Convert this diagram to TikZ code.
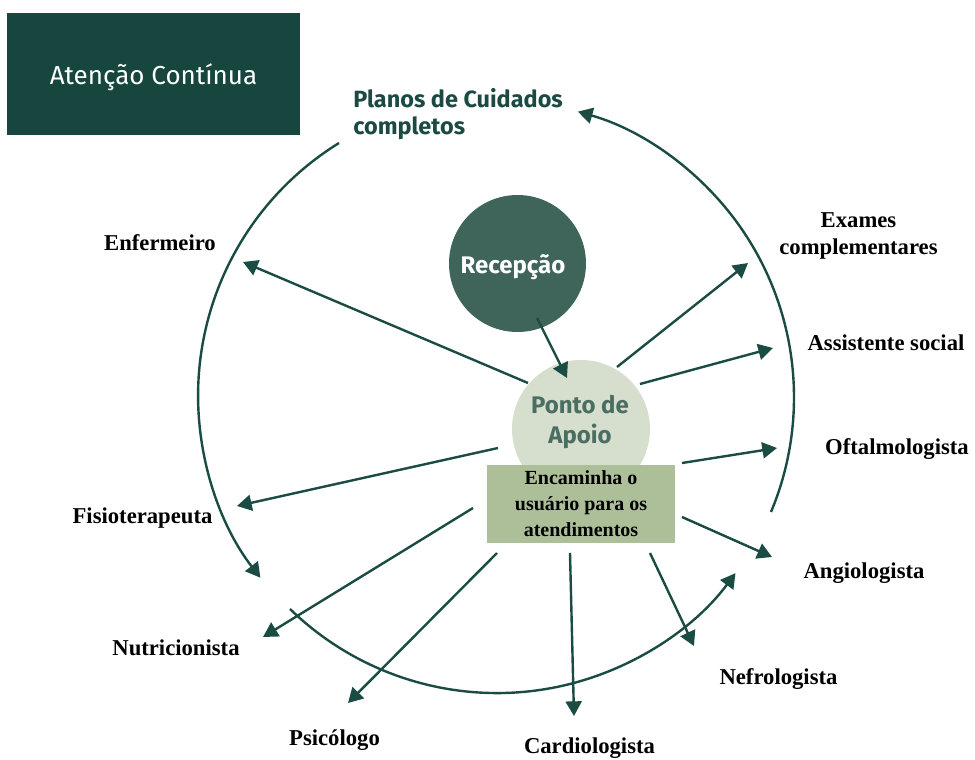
\documentclass[tikz,border=0pt]{standalone}
\usepackage{fontspec}
\setmainfont{Liberation Serif}
\newfontfamily\fira{Fira Sans}
\usetikzlibrary{arrows.meta}
\definecolor{boxdark}{HTML}{17463F}
\definecolor{plantxt}{HTML}{1B4A42}
\definecolor{recfill}{HTML}{3F645A}
\definecolor{pontofill}{HTML}{D6DFCD}
\definecolor{pontotxt}{HTML}{4B6E62}
\definecolor{encfill}{HTML}{ADBF99}
\definecolor{arrcol}{HTML}{1A4C44}
\tikzset{
  arr/.style={draw=arrcol, line width=1.8pt, -{Triangle[length=11pt,width=12pt]}},
  ring/.style={draw=arrcol, line width=1.8pt, -{Triangle[length=11pt,width=12pt]}},
  lab/.style={font=\bfseries\fontsize{17}{20}\selectfont, text=black, align=center, inner sep=0pt},
}
\begin{document}
\begin{tikzpicture}[x=0.75pt,y=-0.75pt]
\useasboundingbox[fill=white] (0,0) rectangle (975,760);

% title box
\node[fill=boxdark, minimum width=219.75pt, minimum height=91.5pt, inner sep=0pt,
      text=white, text depth=0pt, font=\fira\fontsize{19.5}{22}\selectfont] (title) at (153.5,74) {Atenção Contínua};

% Planos de Cuidados completos
\node[anchor=west, align=left, text=plantxt, inner sep=0pt,
      font=\fira\bfseries\fontsize{17.6}{20.5}\selectfont] (planos) at (353,114) {Planos de Cuidados\\completos};

% circle arcs
\coordinate (l0) at (339,143);
\coordinate (b0) at (290,609);
\coordinate (r0) at (771,512);
\draw[ring] (l0) arc[start angle=238.3, end angle=142.2, radius=297];
\draw[ring] (b0) arc[start angle=134.2, end angle=36.6, radius=297];
\draw[ring] (r0) arc[start angle=22.7, end angle=-74.2, radius=297];

% Recepção
\node[circle, fill=recfill, minimum size=102.75pt, inner sep=0pt] (rec) at (517.5,263.5) {};
\node[text=white, font=\fira\bfseries\fontsize{18}{20}\selectfont, inner sep=0pt] (rectxt) at (513,267) {Recepção};

% Ponto de Apoio
\node[circle, fill=pontofill, minimum size=103.5pt, inner sep=0pt] (ponto) at (581,429) {};
\node[text=pontotxt, align=center, font=\fira\bfseries\fontsize{18}{22}\selectfont, inner sep=0pt] (pontotext) at (580,422) {Ponto de\\Apoio};

% Encaminha box
\node[fill=encfill, minimum width=141pt, minimum height=58.5pt, inner sep=0pt, align=center,
      font=\bfseries\fontsize{15}{19.5}\selectfont] (enc) at (581,504) {Encaminha o\\usuário para os\\atendimentos};

% labels
\node[lab] (enf) at (160,243) {Enfermeiro};
\node[lab] (exa) at (858.5,236) {Exames\\complementares};
\node[lab] (ass) at (886,343) {Assistente social};
\node[lab] (oft) at (897,449) {Oftalmologista};
\node[lab] (fis) at (142.5,518) {Fisioterapeuta};
\node[lab] (ang) at (864,573) {Angiologista};
\node[lab] (nut) at (176,648) {Nutricionista};
\node[lab] (nef) at (778.5,679) {Nefrologista};
\node[lab] (psi) at (334.5,740) {Psicólogo};
\node[lab] (car) at (589.5,748) {Cardiologista};

% arrow end points
\coordinate (recA) at (537,318);  \coordinate (recB) at (567,378);
\coordinate (enfA) at (528,383);  \coordinate (enfB) at (243,262);
\coordinate (exaA) at (617,367);  \coordinate (exaB) at (748,263);
\coordinate (assA) at (640,384);  \coordinate (assB) at (773,348);
\coordinate (oftA) at (682,463);  \coordinate (oftB) at (777,448);
\coordinate (angA) at (682,517);  \coordinate (angB) at (772,557);
\coordinate (nefA) at (650,553);  \coordinate (nefB) at (694,646);
\coordinate (carA) at (570,553);  \coordinate (carB) at (574,716);
\coordinate (psiA) at (497,553);  \coordinate (psiB) at (348,703);
\coordinate (nutA) at (473,508);  \coordinate (nutB) at (263,637);
\coordinate (fisA) at (498,448);  \coordinate (fisB) at (237,506);

\draw[arr] (recA) -- (recB);
\draw[arr] (enfA) -- (enfB);
\draw[arr] (exaA) -- (exaB);
\draw[arr] (assA) -- (assB);
\draw[arr] (oftA) -- (oftB);
\draw[arr] (angA) -- (angB);
\draw[arr] (nefA) -- (nefB);
\draw[arr] (carA) -- (carB);
\draw[arr] (psiA) -- (psiB);
\draw[arr] (nutA) -- (nutB);
\draw[arr] (fisA) -- (fisB);
\end{tikzpicture}
\end{document}
